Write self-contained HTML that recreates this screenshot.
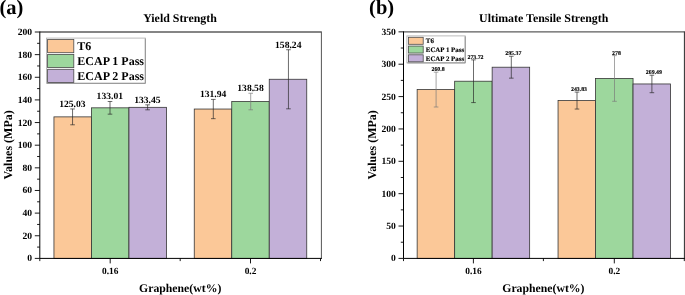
<!DOCTYPE html><html><head><meta charset="utf-8"><title>chart</title><style>
html,body{margin:0;padding:0;background:#fff;}svg{display:block;will-change:transform;transform:translateZ(0)}text{text-rendering:geometricPrecision;font-family:"Liberation Serif",serif;font-weight:bold;fill:#000}
</style></head><body>
<svg width="685" height="295" viewBox="0 0 685 295">
<rect width="685" height="295" fill="#fff"/>
<rect x="53.95" y="116.87" width="37.5" height="141.53" fill="#FBC898" stroke="#353535" stroke-width="0.8"/>
<rect x="91.45" y="107.83" width="37.5" height="150.57" fill="#9DD79D" stroke="#353535" stroke-width="0.8"/>
<rect x="128.95" y="107.33" width="37.5" height="151.07" fill="#C3B0D8" stroke="#353535" stroke-width="0.8"/>
<rect x="194.25" y="109.04" width="37.5" height="149.36" fill="#FBC898" stroke="#353535" stroke-width="0.8"/>
<rect x="231.75" y="101.53" width="37.5" height="156.87" fill="#9DD79D" stroke="#353535" stroke-width="0.8"/>
<rect x="269.25" y="79.27" width="37.5" height="179.13" fill="#C3B0D8" stroke="#353535" stroke-width="0.8"/>
<path d="M72.55 108.94V124.79M70.25 108.94h4.6M70.25 124.79h4.6" stroke="#262626" stroke-width="0.68" fill="none"/>
<text x="72.35" y="106.84" font-size="9.6" text-anchor="middle">125.03</text>
<path d="M110.00 101.49V114.17M107.70 101.49h4.6M107.70 114.17h4.6" stroke="#262626" stroke-width="0.68" fill="none"/>
<text x="109.80" y="99.39" font-size="9.6" text-anchor="middle">133.01</text>
<path d="M147.60 104.84V109.82M145.30 104.84h4.6M145.30 109.82h4.6" stroke="#262626" stroke-width="0.68" fill="none"/>
<text x="147.40" y="102.74" font-size="9.6" text-anchor="middle">133.45</text>
<path d="M213.30 99.42V118.67M211.00 99.42h4.6M211.00 118.67h4.6" stroke="#262626" stroke-width="0.68" fill="none"/>
<text x="213.10" y="97.32" font-size="9.6" text-anchor="middle">131.94</text>
<path d="M250.70 93.26V109.79M248.40 93.26h4.6M248.40 109.79h4.6" stroke="#7a7a7a" stroke-width="0.68" fill="none"/>
<text x="250.50" y="91.16" font-size="9.6" text-anchor="middle">138.58</text>
<path d="M288.45 49.73V108.82M286.15 49.73h4.6M286.15 108.82h4.6" stroke="#262626" stroke-width="0.68" fill="none"/>
<text x="288.25" y="47.63" font-size="9.6" text-anchor="middle">158.24</text>
<path d="M39.8 32H321.4" stroke="#5c5c5c" stroke-width="1.35" fill="none"/>
<path d="M321.4 31.5V258.4" stroke="#555" stroke-width="1" fill="none"/>
<path d="M39.8 31.5V258.4H321.9" stroke="#000" stroke-width="1" fill="none"/>
<text x="32.099999999999994" y="261.40" font-size="9.6" text-anchor="end">0</text>
<text x="32.099999999999994" y="238.76" font-size="9.6" text-anchor="end">20</text>
<text x="32.099999999999994" y="216.12" font-size="9.6" text-anchor="end">40</text>
<text x="32.099999999999994" y="193.48" font-size="9.6" text-anchor="end">60</text>
<text x="32.099999999999994" y="170.84" font-size="9.6" text-anchor="end">80</text>
<text x="32.099999999999994" y="148.20" font-size="9.6" text-anchor="end">100</text>
<text x="32.099999999999994" y="125.56" font-size="9.6" text-anchor="end">120</text>
<text x="32.099999999999994" y="102.92" font-size="9.6" text-anchor="end">140</text>
<text x="32.099999999999994" y="80.28" font-size="9.6" text-anchor="end">160</text>
<text x="32.099999999999994" y="57.64" font-size="9.6" text-anchor="end">180</text>
<text x="32.099999999999994" y="35.00" font-size="9.6" text-anchor="end">200</text>
<path d="M34.8 258.40H39.8M37.099999999999994 247.08H39.8M34.8 235.76H39.8M37.099999999999994 224.44H39.8M34.8 213.12H39.8M37.099999999999994 201.80H39.8M34.8 190.48H39.8M37.099999999999994 179.16H39.8M34.8 167.84H39.8M37.099999999999994 156.52H39.8M34.8 145.20H39.8M37.099999999999994 133.88H39.8M34.8 122.56H39.8M37.099999999999994 111.24H39.8M34.8 99.92H39.8M37.099999999999994 88.60H39.8M34.8 77.28H39.8M37.099999999999994 65.96H39.8M34.8 54.64H39.8M37.099999999999994 43.32H39.8M34.8 32.00H39.8M39.8 258.4v2.7M110.2 258.4v5M180.2 258.4v2.7M250.5 258.4v5M320.5 258.4v2.7" stroke="#000" stroke-width="0.9" fill="none"/>
<text x="110.2" y="273.5" font-size="9.4" text-anchor="middle">0.16</text>
<text x="250.5" y="273.5" font-size="9.4" text-anchor="middle">0.2</text>
<text x="180" y="22.2" font-size="11.9" text-anchor="middle">Yield Strength</text>
<text x="180.2" y="291.5" font-size="11.75" text-anchor="middle">Graphene(wt%)</text>
<text transform="translate(11.999999999999996,144.9) rotate(-90)" font-size="12" text-anchor="middle">Values (MPa)</text>
<text x="-0.5" y="13.8" font-size="20.5">(a)</text>
<rect x="46.5" y="38.1" width="98.8" height="45.2" fill="#fff" stroke="#b4b4b4" stroke-width="0.9"/>
<path d="M145.3 38.6V83.30000000000001H47.0" stroke="#8a8a8a" stroke-width="0.9" fill="none"/>
<rect x="47.6" y="39.50" width="26.2" height="13.2" fill="#FBC898" stroke="#4a4a4a" stroke-width="0.8"/>
<text x="77.3" y="50.36" font-size="12">T6</text>
<rect x="47.6" y="54.40" width="26.2" height="13.2" fill="#9DD79D" stroke="#4a4a4a" stroke-width="0.8"/>
<text x="77.3" y="65.26" font-size="12">ECAP 1 Pass</text>
<rect x="47.6" y="69.30" width="26.2" height="13.2" fill="#C3B0D8" stroke="#4a4a4a" stroke-width="0.8"/>
<text x="77.3" y="80.16" font-size="12">ECAP 2 Pass</text>
<rect x="417.15" y="89.59" width="37.5" height="168.81" fill="#FBC898" stroke="#353535" stroke-width="0.8"/>
<rect x="454.65" y="81.22" width="37.5" height="177.18" fill="#9DD79D" stroke="#353535" stroke-width="0.8"/>
<rect x="492.15" y="67.21" width="37.5" height="191.19" fill="#C3B0D8" stroke="#353535" stroke-width="0.8"/>
<rect x="558.05" y="100.57" width="37.5" height="157.83" fill="#FBC898" stroke="#353535" stroke-width="0.8"/>
<rect x="595.55" y="78.45" width="37.5" height="179.95" fill="#9DD79D" stroke="#353535" stroke-width="0.8"/>
<rect x="633.05" y="83.96" width="37.5" height="174.44" fill="#C3B0D8" stroke="#353535" stroke-width="0.8"/>
<path d="M436.10 72.18V107.00M433.80 72.18h4.6M433.80 107.00h4.6" stroke="#7a7a7a" stroke-width="0.68" fill="none"/>
<text x="438.10" y="71.18" font-size="5.85" text-anchor="middle" stroke="#000" stroke-width="0.12">260.8</text>
<path d="M473.50 59.86V102.59M471.20 59.86h4.6M471.20 102.59h4.6" stroke="#262626" stroke-width="0.68" fill="none"/>
<text x="475.50" y="58.86" font-size="5.85" text-anchor="middle" stroke="#000" stroke-width="0.12">273.72</text>
<path d="M511.30 56.27V78.15M509.00 56.27h4.6M509.00 78.15h4.6" stroke="#262626" stroke-width="0.68" fill="none"/>
<text x="513.30" y="55.27" font-size="5.85" text-anchor="middle" stroke="#000" stroke-width="0.12">295.37</text>
<path d="M577.00 92.09V109.05M574.70 92.09h4.6M574.70 109.05h4.6" stroke="#262626" stroke-width="0.68" fill="none"/>
<text x="579.00" y="91.09" font-size="5.85" text-anchor="middle" stroke="#000" stroke-width="0.12">243.83</text>
<path d="M614.50 55.61V101.30M612.20 55.61h4.6M612.20 101.30h4.6" stroke="#7a7a7a" stroke-width="0.68" fill="none"/>
<text x="616.50" y="54.61" font-size="5.85" text-anchor="middle" stroke="#000" stroke-width="0.12">278</text>
<path d="M651.90 75.22V92.70M649.60 75.22h4.6M649.60 92.70h4.6" stroke="#262626" stroke-width="0.68" fill="none"/>
<text x="653.90" y="74.22" font-size="5.85" text-anchor="middle" stroke="#000" stroke-width="0.12">269.49</text>
<path d="M403.5 31.85H684.4" stroke="#5c5c5c" stroke-width="1.35" fill="none"/>
<path d="M684.4 31.35V258.4" stroke="#2a2a2a" stroke-width="1" fill="none"/>
<path d="M403.5 31.35V258.4H684.9" stroke="#000" stroke-width="1" fill="none"/>
<text x="395.8" y="261.40" font-size="9.6" text-anchor="end">0</text>
<text x="395.8" y="229.04" font-size="9.6" text-anchor="end">50</text>
<text x="395.8" y="196.67" font-size="9.6" text-anchor="end">100</text>
<text x="395.8" y="164.31" font-size="9.6" text-anchor="end">150</text>
<text x="395.8" y="131.94" font-size="9.6" text-anchor="end">200</text>
<text x="395.8" y="99.58" font-size="9.6" text-anchor="end">250</text>
<text x="395.8" y="67.21" font-size="9.6" text-anchor="end">300</text>
<text x="395.8" y="34.85" font-size="9.6" text-anchor="end">350</text>
<path d="M398.5 258.40H403.5M400.8 242.22H403.5M398.5 226.04H403.5M400.8 209.85H403.5M398.5 193.67H403.5M400.8 177.49H403.5M398.5 161.31H403.5M400.8 145.12H403.5M398.5 128.94H403.5M400.8 112.76H403.5M398.5 96.58H403.5M400.8 80.40H403.5M398.5 64.21H403.5M400.8 48.03H403.5M398.5 31.85H403.5M403.5 258.4v2.7M473.4 258.4v5M543.4 258.4v2.7M614.3 258.4v5M684.3 258.4v2.7" stroke="#000" stroke-width="0.9" fill="none"/>
<text x="473.4" y="273.5" font-size="9.4" text-anchor="middle">0.16</text>
<text x="614.3" y="273.5" font-size="9.4" text-anchor="middle">0.2</text>
<text x="543.7" y="22.2" font-size="11.9" text-anchor="middle">Ultimate Tensile Strength</text>
<text x="543.4" y="291.5" font-size="11.75" text-anchor="middle">Graphene(wt%)</text>
<text transform="translate(376.0,144.8) rotate(-90)" font-size="12" text-anchor="middle">Values (MPa)</text>
<text x="369.1" y="13.8" font-size="20.5">(b)</text>
<rect x="406.9" y="35.9" width="58.3" height="27.0" fill="#fff" stroke="#b4b4b4" stroke-width="0.9"/>
<path d="M465.2 36.4V62.9H407.4" stroke="#8a8a8a" stroke-width="0.9" fill="none"/>
<rect x="408.4" y="37.30" width="14.8" height="7.0" fill="#FBC898" stroke="#4a4a4a" stroke-width="0.8"/>
<text x="425.8" y="43.18" font-size="6.9" stroke="#000" stroke-width="0.15">T6</text>
<rect x="408.4" y="46.05" width="14.8" height="7.0" fill="#9DD79D" stroke="#4a4a4a" stroke-width="0.8"/>
<text x="425.8" y="51.93" font-size="6.9" stroke="#000" stroke-width="0.15">ECAP 1 Pass</text>
<rect x="408.4" y="54.80" width="14.8" height="7.0" fill="#C3B0D8" stroke="#4a4a4a" stroke-width="0.8"/>
<text x="425.8" y="60.68" font-size="6.9" stroke="#000" stroke-width="0.15">ECAP 2 Pass</text>
</svg></body></html>
